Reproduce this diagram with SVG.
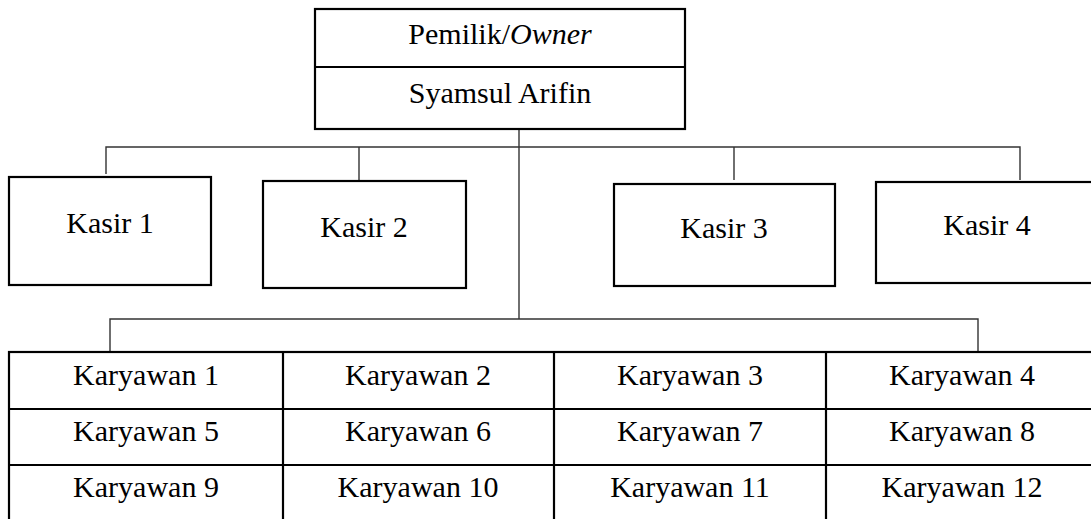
<svg xmlns="http://www.w3.org/2000/svg" width="1091" height="519" viewBox="0 0 1091 519">
<style>
.box{fill:#fff;stroke:#000;stroke-width:2.2}
.ln{fill:none;stroke:#000;stroke-width:2.2}
.con{fill:none;stroke:#333;stroke-width:1.4}
.t{font-size:30px;fill:#000;text-anchor:middle}
</style>
<rect width="1091" height="519" fill="#fff"/>
<g id="connectors">
<path class="con" d="M519 129V319"/>
<path class="con" d="M106 174V147H1020V180"/>
<path class="con" d="M359 147V180"/>
<path class="con" d="M734 147V180"/>
<path class="con" d="M110 352V319H978V352"/>
</g>
<g font-family="Liberation Serif, serif">
<g id="owner">
<rect class="box" x="315" y="9" width="370" height="120"/>
<line class="ln" x1="315" y1="67" x2="685" y2="67"/>
<text class="t" x="500" y="44">Pemilik/<tspan font-style="italic">Owner</tspan></text>
<text class="t" x="500" y="103">Syamsul Arifin</text>
</g>
<g id="kasir1">
<rect class="box" x="9" y="177" width="202" height="108"/>
<text class="t" x="110" y="233">Kasir 1</text>
</g>
<g id="kasir2">
<rect class="box" x="263" y="181" width="203" height="107"/>
<text class="t" x="364" y="237">Kasir 2</text>
</g>
<g id="kasir3">
<rect class="box" x="614" y="184" width="221" height="102"/>
<text class="t" x="724" y="238">Kasir 3</text>
</g>
<g id="kasir4">
<rect class="box" x="876" y="182" width="220" height="101"/>
<text class="t" x="987" y="235">Kasir 4</text>
</g>
<g id="karyawan">
<rect class="box" x="9" y="352" width="1090" height="172"/>
<line class="ln" x1="9" y1="409" x2="1091" y2="409"/>
<line class="ln" x1="9" y1="465" x2="1091" y2="465"/>
<line class="ln" x1="283" y1="352" x2="283" y2="519"/>
<line class="ln" x1="554" y1="352" x2="554" y2="519"/>
<line class="ln" x1="826" y1="352" x2="826" y2="519"/>
<text class="t" x="146" y="385">Karyawan 1</text>
<text class="t" x="418" y="385">Karyawan 2</text>
<text class="t" x="690" y="385">Karyawan 3</text>
<text class="t" x="962" y="385">Karyawan 4</text>
<text class="t" x="146" y="441">Karyawan 5</text>
<text class="t" x="418" y="441">Karyawan 6</text>
<text class="t" x="690" y="441">Karyawan 7</text>
<text class="t" x="962" y="441">Karyawan 8</text>
<text class="t" x="146" y="497">Karyawan 9</text>
<text class="t" x="418" y="497">Karyawan 10</text>
<text class="t" x="690" y="497">Karyawan 11</text>
<text class="t" x="962" y="497">Karyawan 12</text>
</g>
</g>
</svg>
